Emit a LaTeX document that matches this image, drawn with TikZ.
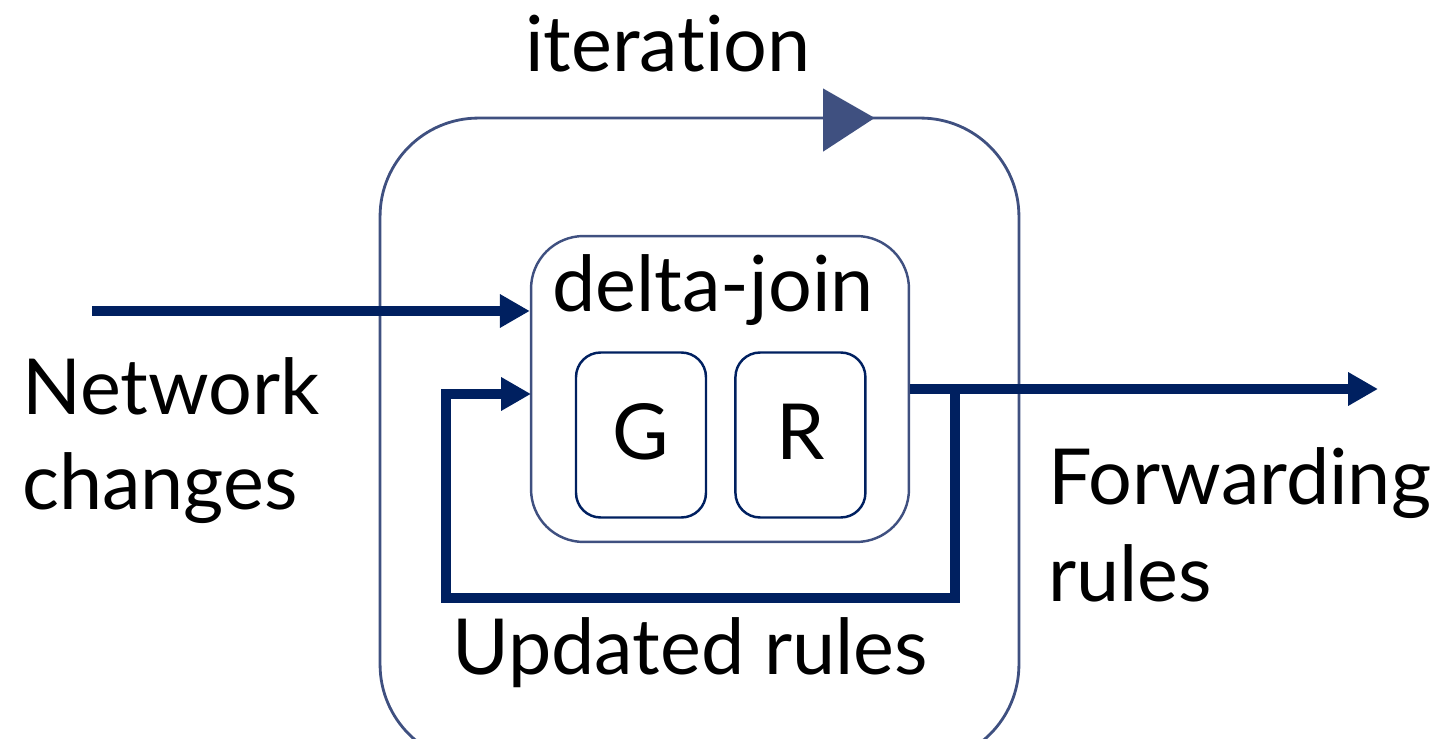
\documentclass[tikz,border=0pt]{standalone}
\usepackage{fontspec}
\setmainfont{Lato}[Ligatures=NoCommon]
\usetikzlibrary{positioning,arrows.meta}
\definecolor{navy}{HTML}{002060}
\definecolor{slate}{HTML}{3F5080}

\begin{document}
\begin{tikzpicture}[
  x=0.02cm, y=-0.02cm,
  node distance=0.54cm,
  every node/.style={font=\fontsize{44}{50}\selectfont, inner sep=0pt},
  loopbox/.style={draw=slate, line width=1.6pt, rounded corners=56pt,
                  minimum width=12.78cm, minimum height=12.9cm},
  joinbox/.style={draw=slate, line width=1.4pt, rounded corners=30pt,
                  minimum width=7.56cm, minimum height=6.12cm},
  relbox/.style={draw=navy, line width=1.4pt, rounded corners=14pt,
                 minimum width=2.6cm, minimum height=3.3cm},
  flow/.style={navy, line width=5.5pt, -{Triangle[length=17pt,width=18pt]}},
  lbl/.style={anchor=base west}
]
  \useasboundingbox (0,0) rectangle (1441,739);
  \clip (0,0) rectangle (1441,739);

  % iteration loop with its direction marker
  \node[loopbox] (iter) at (699.5,440.5) {};
  \fill[slate, draw=slate, line width=1pt] (824,90) -- (873,118) -- (824,150) -- cycle;
  \node[anchor=base] (itername) at (668,72) {iteration};

  % delta-join and the two relations
  \node[joinbox] (dj) at (720,389) {};
  \node[anchor=base] (djname) at (713,312) {delta-join};
  \node[relbox] (g) at (641,435) {};
  \node[relbox, right=of g] (r) {};
  \node[anchor=base] at (g.center |- 0,460) (gname) {G};
  \node[anchor=base] at (r.center |- 0,460) (rname) {R};

  % inputs, outputs and the feedback path
  \coordinate (netsrc) at (92,311);
  \coordinate (fwd) at (1378,389);
  \coordinate (tap) at (955,386);
  \coordinate (loopbl) at (446,598);
  \coordinate (fbin) at (531,394);
  \draw[flow] (netsrc) -- (netsrc -| dj.west);
  \draw[flow] (dj.east) -- (fwd);
  \draw[flow, rounded corners=0pt] (tap) |- (loopbl) |- (fbin);

  % labels
  \node[lbl] (net1) at (22,415) {Network};
  \node[lbl] (net2) at (22,510) {changes};
  \node[lbl] (fw1) at (1048,505) {Forwarding};
  \node[lbl] (fw2) at (1048,602) {rules};
  \node[lbl] (upd) at (452,675) {Updated rules};
\end{tikzpicture}
\end{document}
